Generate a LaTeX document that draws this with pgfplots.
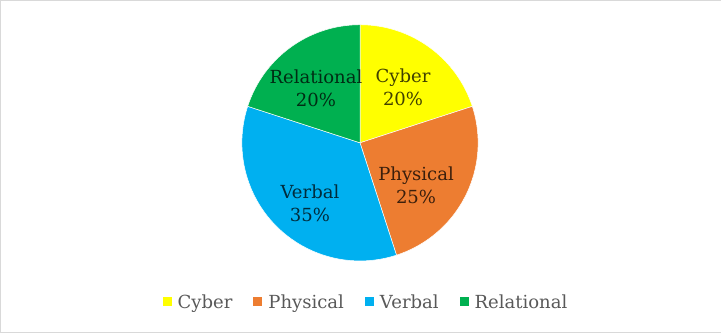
\documentclass[border=0pt]{standalone}
\usepackage{fontspec}
\setmainfont{DejaVu Serif}
\usepackage{pgfplots}
\pgfplotsset{compat=1.18}
\definecolor{cyb}{HTML}{FFFF00}
\definecolor{phy}{HTML}{ED7D31}
\definecolor{ver}{HTML}{00B0F0}
\definecolor{rel}{HTML}{00B050}
\definecolor{txt}{HTML}{595959}
% values (percent)
\def\vA{20}\def\vB{25}\def\vC{35}\def\vD{20}
\begin{document}
\begin{tikzpicture}
\begin{axis}[width=721bp,height=333bp,scale only axis,
  xmin=0,xmax=721,ymin=0,ymax=333,hide axis,clip=false,
  legend columns=4,
  legend style={at={(axis cs:366,31)},anchor=center,draw=none,fill=none,
    font=\fontsize{18bp}{22bp}\selectfont,text=txt,
    /tikz/every even column/.append style={column sep=19bp},
    /tikz/every odd column/.append style={column sep=4bp}},
  legend image code/.code={\fill[#1] (0bp,-4.5bp) rectangle (9bp,4.5bp);},
]
\addlegendimage{fill=cyb,draw=none}
\addlegendentry{Cyber}
\addlegendimage{fill=phy,draw=none}
\addlegendentry{Physical}
\addlegendimage{fill=ver,draw=none}
\addlegendentry{Verbal}
\addlegendimage{fill=rel,draw=none}
\addlegendentry{Relational}
\draw[black!15] (axis cs:0.5,0.5) rectangle (axis cs:720.5,332.5);
\filldraw[fill=cyb,draw=white,line width=0.5bp] (axis cs:360,190) -- ++(90:118bp) arc[start angle=90,delta angle={-3.6*\vA},radius=118bp] -- cycle;
\filldraw[fill=phy,draw=white,line width=0.5bp] (axis cs:360,190) -- ++({90-3.6*\vA}:118bp) arc[start angle={90-3.6*\vA},delta angle={-3.6*\vB},radius=118bp] -- cycle;
\filldraw[fill=ver,draw=white,line width=0.5bp] (axis cs:360,190) -- ++({90-3.6*(\vA+\vB)}:118bp) arc[start angle={90-3.6*(\vA+\vB)},delta angle={-3.6*\vC},radius=118bp] -- cycle;
\filldraw[fill=rel,draw=white,line width=0.5bp] (axis cs:360,190) -- ++({90-3.6*(\vA+\vB+\vC)}:118bp) arc[start angle={90-3.6*(\vA+\vB+\vC)},delta angle={-3.6*\vD},radius=118bp] -- cycle;
\begin{scope}[every node/.style={align=center,text=black,text opacity=0.75,font=\fontsize{18bp}{23bp}\selectfont}]
\node at (axis cs:403,245) {Cyber\\\vA\%};
\node at (axis cs:416,148) {Physical\\\vB\%};
\node at (axis cs:310,130) {Verbal\\\vC\%};
\node at (axis cs:316,244) {Relational\\\vD\%};
\end{scope}
\end{axis}
\end{tikzpicture}
\end{document}
